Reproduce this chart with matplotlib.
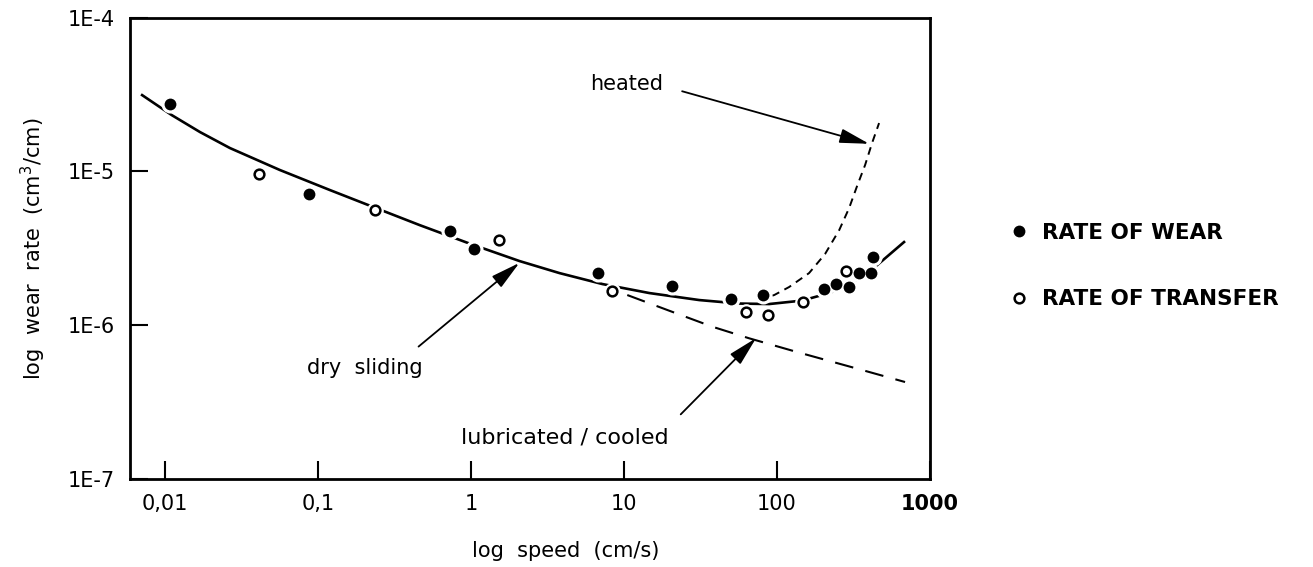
import matplotlib
matplotlib.use('Agg')
import matplotlib.pyplot as plt

# values (speed in cm/s, wear rate in cm^3/cm)
wear_speed = [0.0107, 0.0875, 0.724, 1.04, 6.73, 20.6, 50.2, 80.4, 203, 243, 296, 344, 410, 424]
wear_rate = [2.73e-5, 7.11e-6, 4.09e-6, 3.11e-6, 2.19e-6, 1.80e-6, 1.49e-6, 1.56e-6,
             1.73e-6, 1.86e-6, 1.78e-6, 2.19e-6, 2.17e-6, 2.76e-6]

transfer_speed = [0.0413, 0.237, 1.52, 8.36, 63.0, 86.9, 148, 283]
transfer_rate = [9.60e-6, 5.60e-6, 3.57e-6, 1.68e-6, 1.21e-6, 1.17e-6, 1.41e-6, 2.26e-6]

# dry sliding curve
dry_speed = [0.00708, 0.01106, 0.01692, 0.02655, 0.0563, 0.1194, 0.2349, 0.4619, 0.979,
             2.076, 3.788, 7.228, 14.65, 31.06, 56.64, 88.93, 146.1, 219.1, 296.0, 444.1, 676.6]
dry_rate = [3.13e-5, 2.32e-5, 1.80e-5, 1.417e-5, 1.020e-5, 7.56e-6, 5.81e-6, 4.47e-6, 3.39e-6,
            2.61e-6, 2.18e-6, 1.85e-6, 1.617e-6, 1.456e-6, 1.382e-6, 1.372e-6, 1.445e-6,
            1.617e-6, 1.823e-6, 2.423e-6, 3.47e-6]

heated_speed = [76.6, 95.9, 120, 162, 206, 255, 296, 333.8, 376.5, 418.2, 464.7]
heated_rate = [1.46e-6, 1.57e-6, 1.77e-6, 2.18e-6, 2.90e-6, 4.15e-6, 5.77e-6,
               8.03e-6, 1.099e-5, 1.528e-5, 2.06e-5]

lub_speed = [10.5, 20.7, 37.8, 65.9, 133, 360, 687]
lub_rate = [1.57e-6, 1.22e-6, 9.77e-7, 8.21e-7, 6.72e-7, 5.11e-7, 4.27e-7]

xticks = [0.01, 0.1, 1, 10, 100, 1000]
xticklabels = ['0,01', '0,1', '1', '10', '100', '1000']
yticks = [1e-7, 1e-6, 1e-5, 1e-4]
yticklabels = ['1E-7', '1E-6', '1E-5', '1E-4']

plt.rcParams['font.family'] = ['DejaVu Sans']

fig = plt.figure(figsize=(13.13, 5.67), dpi=100)
ax = fig.add_axes([130 / 1313, 1 - 479 / 567, 800 / 1313, 461.5 / 567])

ax.set_xscale('log')
ax.set_yscale('log')
ax.set_xlim(0.0059, 1000)
ax.set_ylim(1e-7, 1e-4)

# curves
ax.plot(dry_speed, dry_rate, color='k', lw=1.9, zorder=2)
ax.plot(heated_speed, heated_rate, color='k', lw=1.4, linestyle=(0, (4, 3)), zorder=2)
ax.plot(lub_speed, lub_rate, color='k', lw=1.5, linestyle=(0, (9, 6)), zorder=2)

# white halos so the lines break around the points, as in the drawing
ax.plot(wear_speed, wear_rate, 'o', color='w', ms=13, mew=0, zorder=3)
ax.plot(transfer_speed, transfer_rate, 'o', color='w', ms=12, mew=0, zorder=3)

ax.plot(wear_speed, wear_rate, 'o', color='k', ms=8.5, mew=0, zorder=4,
        label='RATE OF WEAR')
ax.plot(transfer_speed, transfer_rate, 'o', mfc='w', mec='k', ms=7, mew=1.8, zorder=4,
        label='RATE OF TRANSFER')

arrow = dict(arrowstyle='-|>,head_length=0.9,head_width=0.22', color='k', lw=1.3,
             mutation_scale=20, shrinkB=0)
ax.annotate('heated', xy=(400, 1.51e-5), xytext=(0.621, 0.856), textcoords='axes fraction',
            ha='center', va='center', fontsize=15,
            arrowprops=dict(arrow, relpos=(1, 0.4), shrinkA=12))
ax.annotate('dry  sliding', xy=(2.07, 2.54e-6), xytext=(0.294, 0.24), textcoords='axes fraction',
            ha='center', va='center', fontsize=15,
            arrowprops=dict(arrow, relpos=(0.84, 1), shrinkA=10))
ax.annotate('lubricated / cooled', xy=(73, 8.24e-7), xytext=(0.543, 0.091),
            textcoords='axes fraction', ha='center', va='center', fontsize=16,
            arrowprops=dict(arrow, relpos=(1, 1), shrinkA=10))

ax.set_xticks(xticks)
ax.set_xticklabels(xticklabels)
ax.set_yticks(yticks)
ax.set_yticklabels(yticklabels)
ax.minorticks_off()
ax.tick_params(direction='in', length=13, width=1.5, labelsize=15, pad=11)
ax.get_xticklabels()[-1].set_fontweight('bold')
for sp in ax.spines.values():
    sp.set_linewidth(2)

ax.set_xlabel('log  speed  (cm/s)', fontsize=15)
ax.set_ylabel('log  wear  rate  (cm$^3$/cm)', fontsize=15)
ax.xaxis.set_label_coords(0.544, -0.135)
ax.yaxis.set_label_coords(-0.103, 0.5)

fig.legend(handles=ax.get_lines()[-2:], loc='upper left',
           bbox_to_anchor=(997 / 1313, 1 - 212 / 567), frameon=False,
           prop={'weight': 'bold', 'size': 15.5}, handlelength=1.0, handletextpad=0.6,
           labelspacing=2.15, borderpad=0)

fig.savefig('out.png', dpi=100)
